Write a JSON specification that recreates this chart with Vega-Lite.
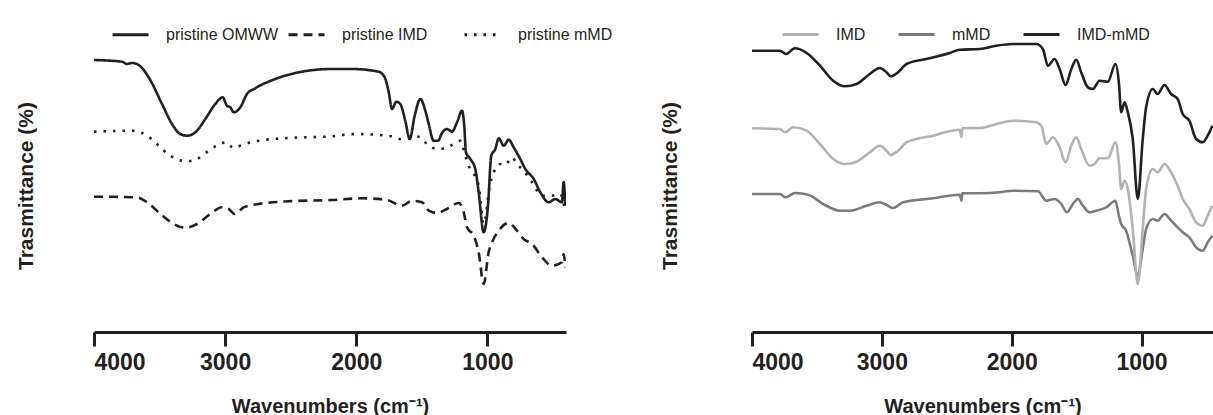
{
  "$schema": "https://vega.github.io/schema/vega-lite/v6.json",
  "padding": {"left": 15, "top": 15, "right": 0, "bottom": 0},
  "config": {
    "font": "Liberation Sans",
    "view": {"stroke": null},
    "axisX": {
      "grid": false,
      "domainColor": "#231f20", "domainWidth": 3, "tickColor": "#231f20", "tickWidth": 3, "tickSize": 14,
      "labelFontSize": 23, "labelFontWeight": "bold", "labelColor": "#231f20", "labelPadding": 5,
      "titleFontSize": 20, "titleFontWeight": "bold", "titleColor": "#231f20", "titlePadding": 22
    },
    "axisY": {
      "grid": false, "labels": false, "ticks": false, "domain": false,
      "titleFontSize": 21, "titleFontWeight": "bold", "titleColor": "#231f20"
    },
    "legend": {
      "title": null, "orient": "none", "direction": "horizontal", "columns": 3,
      "symbolType": "stroke", "symbolSize": 1296, "symbolStrokeWidth": 3,
      "labelFontSize": 16, "labelColor": "#231f20", "labelOffset": 16
    }
  },
  "datasets": {
    "left": [
      {"s":"pristine OMWW","wn":4000,"t":272},{"s":"pristine OMWW","wn":3786,"t":270.3},{"s":"pristine OMWW","wn":3748,"t":268},{"s":"pristine OMWW","wn":3710,"t":269},{"s":"pristine OMWW","wn":3659,"t":267},{"s":"pristine OMWW","wn":3583,"t":254.7},{"s":"pristine OMWW","wn":3481,"t":228},{"s":"pristine OMWW","wn":3405,"t":208},{"s":"pristine OMWW","wn":3342,"t":198},{"s":"pristine OMWW","wn":3291,"t":196.3},{"s":"pristine OMWW","wn":3227,"t":199.7},{"s":"pristine OMWW","wn":3151,"t":213},{"s":"pristine OMWW","wn":3075,"t":228},{"s":"pristine OMWW","wn":3018,"t":234.7},{"s":"pristine OMWW","wn":2986,"t":226.3},{"s":"pristine OMWW","wn":2960,"t":224.7},{"s":"pristine OMWW","wn":2934,"t":219.7},{"s":"pristine OMWW","wn":2884,"t":224.7},{"s":"pristine OMWW","wn":2833,"t":238},{"s":"pristine OMWW","wn":2770,"t":243.7},{"s":"pristine OMWW","wn":2617,"t":253},{"s":"pristine OMWW","wn":2439,"t":259.7},{"s":"pristine OMWW","wn":2185,"t":263},{"s":"pristine OMWW","wn":2032,"t":263},{"s":"pristine OMWW","wn":1829,"t":260.3},{"s":"pristine OMWW","wn":1783,"t":254.7},{"s":"pristine OMWW","wn":1752,"t":239.7},{"s":"pristine OMWW","wn":1727,"t":223},{"s":"pristine OMWW","wn":1694,"t":230.3},{"s":"pristine OMWW","wn":1664,"t":228},{"s":"pristine OMWW","wn":1626,"t":211.3},{"s":"pristine OMWW","wn":1592,"t":193},{"s":"pristine OMWW","wn":1554,"t":216.3},{"s":"pristine OMWW","wn":1511,"t":233},{"s":"pristine OMWW","wn":1473,"t":221.3},{"s":"pristine OMWW","wn":1447,"t":208},{"s":"pristine OMWW","wn":1409,"t":191.3},{"s":"pristine OMWW","wn":1376,"t":191.3},{"s":"pristine OMWW","wn":1346,"t":199},{"s":"pristine OMWW","wn":1308,"t":203},{"s":"pristine OMWW","wn":1270,"t":200.3},{"s":"pristine OMWW","wn":1231,"t":209.7},{"s":"pristine OMWW","wn":1193,"t":221.3},{"s":"pristine OMWW","wn":1176,"t":206.3},{"s":"pristine OMWW","wn":1163,"t":179.7},{"s":"pristine OMWW","wn":1130,"t":173},{"s":"pristine OMWW","wn":1092,"t":163},{"s":"pristine OMWW","wn":1066,"t":139.7},{"s":"pristine OMWW","wn":1028,"t":99.7},{"s":"pristine OMWW","wn":995,"t":126.3},{"s":"pristine OMWW","wn":970,"t":176.3},{"s":"pristine OMWW","wn":939,"t":183},{"s":"pristine OMWW","wn":913,"t":193.7},{"s":"pristine OMWW","wn":875,"t":186.3},{"s":"pristine OMWW","wn":837,"t":192.3},{"s":"pristine OMWW","wn":799,"t":184.7},{"s":"pristine OMWW","wn":749,"t":173},{"s":"pristine OMWW","wn":710,"t":163},{"s":"pristine OMWW","wn":646,"t":153},{"s":"pristine OMWW","wn":596,"t":139.7},{"s":"pristine OMWW","wn":532,"t":129.7},{"s":"pristine OMWW","wn":482,"t":133},{"s":"pristine OMWW","wn":431,"t":129.7},{"s":"pristine OMWW","wn":418,"t":150},{"s":"pristine OMWW","wn":405,"t":126.3},
      {"s":"pristine IMD","wn":4000,"t":135.3},{"s":"pristine IMD","wn":3672,"t":134.7},{"s":"pristine IMD","wn":3596,"t":129.7},{"s":"pristine IMD","wn":3507,"t":119.7},{"s":"pristine IMD","wn":3405,"t":109},{"s":"pristine IMD","wn":3304,"t":104.3},{"s":"pristine IMD","wn":3214,"t":108},{"s":"pristine IMD","wn":3113,"t":118},{"s":"pristine IMD","wn":3024,"t":124.7},{"s":"pristine IMD","wn":2973,"t":123},{"s":"pristine IMD","wn":2927,"t":118},{"s":"pristine IMD","wn":2858,"t":124.7},{"s":"pristine IMD","wn":2744,"t":128},{"s":"pristine IMD","wn":2515,"t":130.7},{"s":"pristine IMD","wn":2185,"t":132},{"s":"pristine IMD","wn":1956,"t":133.7},{"s":"pristine IMD","wn":1765,"t":132},{"s":"pristine IMD","wn":1651,"t":126.3},{"s":"pristine IMD","wn":1575,"t":131.3},{"s":"pristine IMD","wn":1498,"t":129.7},{"s":"pristine IMD","wn":1447,"t":121.3},{"s":"pristine IMD","wn":1384,"t":119},{"s":"pristine IMD","wn":1308,"t":123},{"s":"pristine IMD","wn":1218,"t":129},{"s":"pristine IMD","wn":1180,"t":119.7},{"s":"pristine IMD","wn":1155,"t":104.7},{"s":"pristine IMD","wn":1104,"t":96.3},{"s":"pristine IMD","wn":1066,"t":79.7},{"s":"pristine IMD","wn":1028,"t":48},{"s":"pristine IMD","wn":990,"t":79.7},{"s":"pristine IMD","wn":964,"t":89.7},{"s":"pristine IMD","wn":913,"t":101.3},{"s":"pristine IMD","wn":837,"t":109},{"s":"pristine IMD","wn":774,"t":101.3},{"s":"pristine IMD","wn":723,"t":93},{"s":"pristine IMD","wn":659,"t":88},{"s":"pristine IMD","wn":583,"t":74.7},{"s":"pristine IMD","wn":507,"t":66.3},{"s":"pristine IMD","wn":431,"t":69.7},{"s":"pristine IMD","wn":418,"t":78},{"s":"pristine IMD","wn":405,"t":64.7},
      {"s":"pristine mMD","wn":4000,"t":200.3},{"s":"pristine mMD","wn":3710,"t":201.3},{"s":"pristine mMD","wn":3634,"t":199},{"s":"pristine mMD","wn":3571,"t":194},{"s":"pristine mMD","wn":3520,"t":188},{"s":"pristine mMD","wn":3418,"t":176.3},{"s":"pristine mMD","wn":3291,"t":170.7},{"s":"pristine mMD","wn":3214,"t":173},{"s":"pristine mMD","wn":3125,"t":181.3},{"s":"pristine mMD","wn":3054,"t":187},{"s":"pristine mMD","wn":2993,"t":189.7},{"s":"pristine mMD","wn":2934,"t":184},{"s":"pristine mMD","wn":2871,"t":187},{"s":"pristine mMD","wn":2744,"t":191.3},{"s":"pristine mMD","wn":2515,"t":194},{"s":"pristine mMD","wn":2185,"t":195.7},{"s":"pristine mMD","wn":2007,"t":198},{"s":"pristine mMD","wn":1727,"t":195.7},{"s":"pristine mMD","wn":1664,"t":193},{"s":"pristine mMD","wn":1588,"t":193.7},{"s":"pristine mMD","wn":1524,"t":195.3},{"s":"pristine mMD","wn":1447,"t":186.3},{"s":"pristine mMD","wn":1384,"t":183},{"s":"pristine mMD","wn":1325,"t":183.7},{"s":"pristine mMD","wn":1257,"t":188},{"s":"pristine mMD","wn":1206,"t":191.3},{"s":"pristine mMD","wn":1168,"t":176.3},{"s":"pristine mMD","wn":1142,"t":166.3},{"s":"pristine mMD","wn":1066,"t":146.3},{"s":"pristine mMD","wn":1028,"t":108},{"s":"pristine mMD","wn":977,"t":149.7},{"s":"pristine mMD","wn":951,"t":159.7},{"s":"pristine mMD","wn":901,"t":168},{"s":"pristine mMD","wn":863,"t":167},{"s":"pristine mMD","wn":812,"t":174.7},{"s":"pristine mMD","wn":774,"t":168},{"s":"pristine mMD","wn":723,"t":161.3},{"s":"pristine mMD","wn":659,"t":149.7},{"s":"pristine mMD","wn":583,"t":136.3},{"s":"pristine mMD","wn":507,"t":136.3},{"s":"pristine mMD","wn":444,"t":138},{"s":"pristine mMD","wn":405,"t":119.7}
    ],
    "right": [
      {"s":"mMD","wn":4000,"t":138},{"s":"mMD","wn":3785,"t":138},{"s":"mMD","wn":3739,"t":134.7},{"s":"mMD","wn":3669,"t":139},{"s":"mMD","wn":3567,"t":137.3},{"s":"mMD","wn":3452,"t":128},{"s":"mMD","wn":3323,"t":121.3},{"s":"mMD","wn":3246,"t":121.3},{"s":"mMD","wn":3118,"t":126.3},{"s":"mMD","wn":3016,"t":129.7},{"s":"mMD","wn":2964,"t":127},{"s":"mMD","wn":2913,"t":124},{"s":"mMD","wn":2837,"t":129.7},{"s":"mMD","wn":2606,"t":133.7},{"s":"mMD","wn":2400,"t":137.3},{"s":"mMD","wn":2387,"t":131.3},{"s":"mMD","wn":2380,"t":138.7},{"s":"mMD","wn":2247,"t":138.7},{"s":"mMD","wn":2093,"t":139.7},{"s":"mMD","wn":1991,"t":141.3},{"s":"mMD","wn":1798,"t":140.7},{"s":"mMD","wn":1734,"t":131.3},{"s":"mMD","wn":1670,"t":133},{"s":"mMD","wn":1618,"t":128},{"s":"mMD","wn":1575,"t":119.7},{"s":"mMD","wn":1529,"t":128},{"s":"mMD","wn":1491,"t":133},{"s":"mMD","wn":1452,"t":126.3},{"s":"mMD","wn":1401,"t":119.7},{"s":"mMD","wn":1349,"t":121.3},{"s":"mMD","wn":1272,"t":124.7},{"s":"mMD","wn":1201,"t":131.3},{"s":"mMD","wn":1175,"t":116.3},{"s":"mMD","wn":1157,"t":108},{"s":"mMD","wn":1119,"t":101.3},{"s":"mMD","wn":1068,"t":76.3},{"s":"mMD","wn":1029,"t":56.3},{"s":"mMD","wn":991,"t":83},{"s":"mMD","wn":965,"t":103},{"s":"mMD","wn":914,"t":113},{"s":"mMD","wn":876,"t":111.3},{"s":"mMD","wn":824,"t":118},{"s":"mMD","wn":773,"t":111.3},{"s":"mMD","wn":722,"t":104.7},{"s":"mMD","wn":683,"t":99.7},{"s":"mMD","wn":632,"t":94.7},{"s":"mMD","wn":580,"t":84.7},{"s":"mMD","wn":529,"t":81.3},{"s":"mMD","wn":491,"t":89.7},{"s":"mMD","wn":455,"t":96.3},
      {"s":"IMD","wn":4000,"t":203.7},{"s":"IMD","wn":3785,"t":203},{"s":"IMD","wn":3746,"t":199.7},{"s":"IMD","wn":3682,"t":204.7},{"s":"IMD","wn":3579,"t":201.3},{"s":"IMD","wn":3477,"t":188},{"s":"IMD","wn":3375,"t":173},{"s":"IMD","wn":3285,"t":168},{"s":"IMD","wn":3195,"t":170.3},{"s":"IMD","wn":3093,"t":179.7},{"s":"IMD","wn":3016,"t":186.3},{"s":"IMD","wn":2964,"t":181.3},{"s":"IMD","wn":2933,"t":177},{"s":"IMD","wn":2875,"t":181.3},{"s":"IMD","wn":2810,"t":189.7},{"s":"IMD","wn":2606,"t":196.3},{"s":"IMD","wn":2400,"t":202.3},{"s":"IMD","wn":2387,"t":195},{"s":"IMD","wn":2380,"t":203.7},{"s":"IMD","wn":2247,"t":204},{"s":"IMD","wn":2118,"t":208},{"s":"IMD","wn":1991,"t":211.3},{"s":"IMD","wn":1811,"t":209.7},{"s":"IMD","wn":1772,"t":206.3},{"s":"IMD","wn":1734,"t":188},{"s":"IMD","wn":1683,"t":194.7},{"s":"IMD","wn":1631,"t":184.7},{"s":"IMD","wn":1585,"t":169.7},{"s":"IMD","wn":1541,"t":186.3},{"s":"IMD","wn":1503,"t":194.7},{"s":"IMD","wn":1465,"t":183},{"s":"IMD","wn":1401,"t":166.3},{"s":"IMD","wn":1362,"t":168},{"s":"IMD","wn":1324,"t":173.7},{"s":"IMD","wn":1260,"t":173.7},{"s":"IMD","wn":1201,"t":189.7},{"s":"IMD","wn":1175,"t":169.7},{"s":"IMD","wn":1157,"t":143},{"s":"IMD","wn":1131,"t":151.3},{"s":"IMD","wn":1106,"t":143},{"s":"IMD","wn":1068,"t":103},{"s":"IMD","wn":1029,"t":48},{"s":"IMD","wn":991,"t":103},{"s":"IMD","wn":965,"t":143},{"s":"IMD","wn":914,"t":163},{"s":"IMD","wn":876,"t":159.7},{"s":"IMD","wn":824,"t":168},{"s":"IMD","wn":773,"t":159.7},{"s":"IMD","wn":722,"t":146.3},{"s":"IMD","wn":683,"t":133},{"s":"IMD","wn":632,"t":123},{"s":"IMD","wn":580,"t":109.7},{"s":"IMD","wn":529,"t":106.3},{"s":"IMD","wn":491,"t":116.3},{"s":"IMD","wn":455,"t":126.3},
      {"s":"IMD-mMD","wn":4000,"t":281.3},{"s":"IMD-mMD","wn":3785,"t":281.3},{"s":"IMD-mMD","wn":3739,"t":278},{"s":"IMD-mMD","wn":3669,"t":283.7},{"s":"IMD-mMD","wn":3579,"t":279},{"s":"IMD-mMD","wn":3477,"t":266.3},{"s":"IMD-mMD","wn":3375,"t":251.3},{"s":"IMD-mMD","wn":3285,"t":245.7},{"s":"IMD-mMD","wn":3195,"t":248},{"s":"IMD-mMD","wn":3093,"t":258},{"s":"IMD-mMD","wn":3016,"t":264},{"s":"IMD-mMD","wn":2964,"t":259.7},{"s":"IMD-mMD","wn":2933,"t":255.7},{"s":"IMD-mMD","wn":2875,"t":259.7},{"s":"IMD-mMD","wn":2810,"t":268},{"s":"IMD-mMD","wn":2657,"t":273},{"s":"IMD-mMD","wn":2477,"t":279},{"s":"IMD-mMD","wn":2400,"t":282.3},{"s":"IMD-mMD","wn":2247,"t":283},{"s":"IMD-mMD","wn":2118,"t":286.3},{"s":"IMD-mMD","wn":1991,"t":288},{"s":"IMD-mMD","wn":1811,"t":288},{"s":"IMD-mMD","wn":1760,"t":283},{"s":"IMD-mMD","wn":1721,"t":266.3},{"s":"IMD-mMD","wn":1670,"t":273},{"s":"IMD-mMD","wn":1631,"t":263},{"s":"IMD-mMD","wn":1585,"t":247},{"s":"IMD-mMD","wn":1541,"t":263},{"s":"IMD-mMD","wn":1503,"t":272.3},{"s":"IMD-mMD","wn":1465,"t":259.7},{"s":"IMD-mMD","wn":1414,"t":244.7},{"s":"IMD-mMD","wn":1375,"t":243},{"s":"IMD-mMD","wn":1324,"t":251.3},{"s":"IMD-mMD","wn":1260,"t":250.3},{"s":"IMD-mMD","wn":1201,"t":268},{"s":"IMD-mMD","wn":1175,"t":249.7},{"s":"IMD-mMD","wn":1157,"t":219.7},{"s":"IMD-mMD","wn":1131,"t":229.7},{"s":"IMD-mMD","wn":1106,"t":219.7},{"s":"IMD-mMD","wn":1068,"t":193},{"s":"IMD-mMD","wn":1029,"t":133},{"s":"IMD-mMD","wn":991,"t":193},{"s":"IMD-mMD","wn":965,"t":224.7},{"s":"IMD-mMD","wn":914,"t":243},{"s":"IMD-mMD","wn":876,"t":238},{"s":"IMD-mMD","wn":824,"t":247},{"s":"IMD-mMD","wn":773,"t":238},{"s":"IMD-mMD","wn":722,"t":233},{"s":"IMD-mMD","wn":683,"t":218},{"s":"IMD-mMD","wn":632,"t":211.3},{"s":"IMD-mMD","wn":580,"t":193},{"s":"IMD-mMD","wn":529,"t":189.7},{"s":"IMD-mMD","wn":491,"t":196.3},{"s":"IMD-mMD","wn":455,"t":206.3}
    ]
  },
  "hconcat": [
    {
      "width": 472, "height": 293,
      "data": {"name": "left"},
      "mark": {"type": "line", "color": "#231f20", "strokeWidth": 2.6, "clip": true, "interpolate": "monotone"},
      "encoding": {
        "x": {"field": "wn", "type": "quantitative", "scale": {"domain": [4000, 400], "nice": false, "zero": false}, "axis": {"title": "Wavenumbers (cm⁻¹)", "values": [4000, 3000, 2000, 1000], "format": "d"}},
        "y": {"field": "t", "type": "quantitative", "scale": {"domain": [0, 293], "nice": false}, "axis": {"title": "Trasmittance (%)", "titlePadding": 58}},
        "strokeDash": {
          "field": "s", "type": "nominal",
          "scale": {"domain": ["pristine OMWW", "pristine IMD", "pristine mMD"], "range": [[1, 0], [9, 6], [2.5, 7]]},
          "legend": {"legendX": 17, "legendY": -24, "gridAlign": "all", "columnPadding": 4, "symbolStrokeColor": "#231f20"}
        }
      }
    },
    {
      "width": 461, "height": 293,
      "data": {"name": "right"},
      "mark": {"type": "line", "strokeWidth": 2.6, "clip": true, "interpolate": "monotone"},
      "encoding": {
        "x": {"field": "wn", "type": "quantitative", "scale": {"domain": [4000, 450], "nice": false, "zero": false}, "axis": {"title": "Wavenumbers (cm⁻¹)", "values": [4000, 3000, 2000, 1000], "format": "d"}},
        "y": {"field": "t", "type": "quantitative", "scale": {"domain": [0, 293], "nice": false}, "axis": {"title": "Trasmittance (%)", "titlePadding": 72}},
        "color": {
          "field": "s", "type": "nominal",
          "scale": {"domain": ["IMD", "mMD", "IMD-mMD"], "range": ["#b2b2b2", "#7b7b7b", "#231f20"]},
          "legend": {"legendX": 29, "legendY": -24, "gridAlign": "none", "columnPadding": 26}
        }
      }
    }
  ],
  "spacing": 46,
  "resolve": {"scale": {"color": "independent", "strokeDash": "independent", "x": "independent", "y": "independent"}}
}
